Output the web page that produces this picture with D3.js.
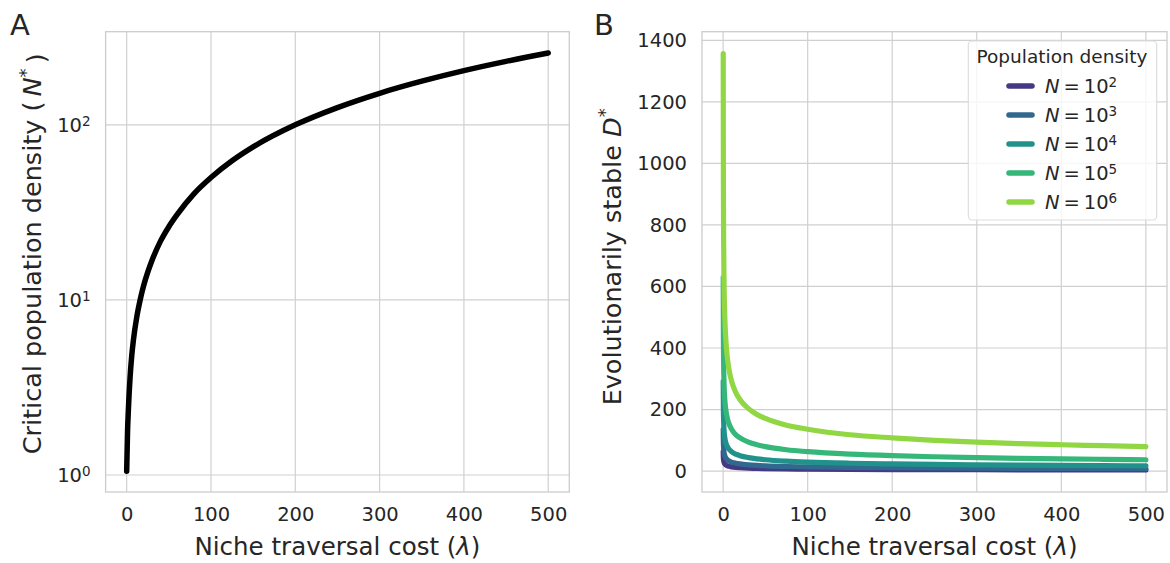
<!DOCTYPE html>
<html>
<head>
<meta charset="UTF-8">
<script src="https://d3js.org/d3.v7.min.js"></script>
<style>
  body { margin: 0; background: #fff; }
  text { font-family: "DejaVu Sans", sans-serif; fill: #262626; }
  .grid line { stroke: #d0d0d0; stroke-width: 1.2px; }
  .frame { fill: none; stroke: #cccccc; stroke-width: 1.3px; }
</style>
</head>
<body>
<svg width="1170" height="563"></svg>
<script>
// panel A: critical population density vs niche traversal cost
var lambdaA = [0, 1, 2, 4, 6, 8, 12, 16, 20, 25, 30, 40, 50, 60, 80, 100, 125, 150, 200, 250, 300, 350, 400, 450, 500];
var nStar   = [1.05, 1.75, 2.35, 3.6, 4.8, 5.9, 8.0, 10.0, 12.0, 14.4, 16.8, 21.6, 26.2, 30.8, 40.5, 50, 62.3, 74.8, 100, 125.5, 151.5, 177.5, 204, 230.5, 257];

// panel B: evolutionarily stable D* for five population densities
var lambdaB = [0.1, 0.3, 0.6, 1, 2, 3, 5, 7, 10, 15, 20, 30, 40, 50, 75, 100, 150, 200, 250, 300, 350, 400, 450, 500];
var seriesNames = ["2", "3", "4", "5", "6"];
var d_N1e2 = [63, 43.7, 34.7, 29.2, 23.2, 20.3, 17.1, 15.3, 13.6, 11.8, 10.8, 9.4, 8.5, 7.9, 6.9, 6.3, 5.5, 5.0, 4.6, 4.4, 4.1, 4.0, 3.8, 3.7];
var d_N1e3 = [136, 94, 75, 63, 50, 43.7, 36.8, 33, 29.2, 25.5, 23.2, 20.3, 18.4, 17.1, 14.9, 13.6, 11.8, 10.8, 10, 9.4, 8.9, 8.5, 8.3, 7.9];
var d_N1e4 = [292, 203, 161, 136, 108, 94, 79.4, 71, 63, 55, 50, 43.7, 39.7, 36.8, 32.2, 29.2, 25.5, 23.2, 21.5, 20.3, 19.3, 18.4, 17.7, 17.1];
var d_N1e5 = [630, 437, 347, 292, 232, 203, 171, 153, 136, 118, 108, 94, 85.5, 79.4, 69.3, 63, 55, 50, 46.5, 43.7, 41.5, 39.7, 38.2, 36.8];
var d_N1e6 = [1357, 941, 747, 630, 500, 437, 368, 329, 292, 255, 232, 203, 184, 171, 149, 136, 118, 108, 100, 94, 89, 85.5, 82.6, 79.4];
var seriesB = [d_N1e2, d_N1e3, d_N1e4, d_N1e5, d_N1e6];

var xTicks = [0, 100, 200, 300, 400, 500];
var yTicksA = [1, 10, 100];
var yTicksB = [0, 200, 400, 600, 800, 1000, 1200, 1400];

var colors = seriesNames.map((d, i) => d3.interpolateViridis((i + 1) / 6));

var svg = d3.select("svg");
var yTop = 31.7, yBot = 492;

function drawPanel(x, y, xT, yT, yFmt) {
  var g = svg.append("g");
  var x0 = x.range()[0], x1 = x.range()[1];
  // grid
  var grid = g.append("g").attr("class", "grid");
  grid.selectAll("line.v").data(xT).enter().append("line")
    .attr("x1", d => x(d)).attr("x2", d => x(d)).attr("y1", yTop).attr("y2", yBot);
  grid.selectAll("line.h").data(yT).enter().append("line")
    .attr("x1", x0).attr("x2", x1).attr("y1", d => y(d)).attr("y2", d => y(d));
  g.append("rect").attr("class", "frame")
    .attr("x", x0).attr("y", yTop).attr("width", x1 - x0).attr("height", yBot - yTop);

  var ax = g.append("g").attr("transform", "translate(0," + yBot + ")")
    .call(d3.axisBottom(x).tickValues(xT).tickSize(0).tickPadding(15));
  ax.select(".domain").remove();
  ax.attr("font-family", null).attr("font-size", null);
  ax.selectAll("text").style("font-size", "19.5px").attr("fill", "#262626");

  var ay = g.append("g").attr("transform", "translate(" + x0 + ",0)")
    .call(d3.axisLeft(y).tickValues(yT).tickSize(0).tickPadding(15).tickFormat(yFmt || (d => d)));
  ay.select(".domain").remove();
  ay.attr("font-family", null).attr("font-size", null);
  ay.selectAll("text").style("font-size", "19.5px").attr("fill", "#262626");
  return {g: g, ay: ay};
}

// ---------- panel A
var xA = d3.scaleLinear().domain([-25, 525]).range([105.6, 569.3]);
var yA = d3.scaleLog().domain([Math.pow(10, -0.097), Math.pow(10, 2.532)]).range([yBot, yTop]);
var pA = drawPanel(xA, yA, xTicks, yTicksA, () => "");
pA.ay.selectAll(".tick text").each(function(d) {
  var t = d3.select(this);
  t.append("tspan").text("10");
  t.append("tspan").attr("dy", "-0.45em").style("font-size", "13.5px").text(Math.round(Math.log10(d)));
});

var lineA = d3.line().x((d, i) => xA(lambdaA[i])).y(d => yA(d)).curve(d3.curveMonotoneX);
pA.g.append("path").datum(nStar).attr("d", lineA)
  .attr("fill", "none").attr("stroke", "#000").attr("stroke-width", 5.5)
  .attr("stroke-linecap", "round").attr("stroke-linejoin", "round");

// ---------- panel B
var xB = d3.scaleLinear().domain([-25, 525]).range([702, 1167]);
var yB = d3.scaleLinear().domain([-68, 1428]).range([yBot, yTop]);
var pB = drawPanel(xB, yB, xTicks, yTicksB);

var lineB = d3.line().x((d, i) => xB(lambdaB[i])).y(d => yB(d)).curve(d3.curveMonotoneX);
seriesB.forEach((s, i) => {
  pB.g.append("path").datum(s).attr("d", lineB)
    .attr("fill", "none").attr("stroke", colors[i]).attr("stroke-width", 5.2)
    .attr("stroke-linecap", "round").attr("stroke-linejoin", "round");
});

// legend
var lg = svg.append("g");
lg.append("rect").attr("x", 968.3).attr("y", 41).attr("width", 188.4).attr("height", 179)
  .attr("rx", 4).attr("fill", "rgba(255,255,255,0.8)").attr("stroke", "#dddddd").attr("stroke-width", 1.2);
lg.append("text").attr("x", 1062).attr("y", 62.5).attr("text-anchor", "middle")
  .style("font-size", "18.5px").text("Population density");
seriesNames.forEach((p, i) => {
  var cy = 86 + i * 29;
  lg.append("line").attr("x1", 1009).attr("x2", 1032).attr("y1", cy).attr("y2", cy)
    .attr("stroke", colors[i]).attr("stroke-width", 5.5).attr("stroke-linecap", "round");
  var t = lg.append("text").attr("x", 1045).attr("y", cy + 7).style("font-size", "19.5px");
  t.append("tspan").style("font-style", "italic").text("N");
  t.append("tspan").text("\u2009=\u200910");
  t.append("tspan").attr("dy", "-0.45em").style("font-size", "13.5px").text(p);
});

// axis labels
function xLabel(cx) {
  var t = svg.append("text").attr("x", cx).attr("y", 555).attr("text-anchor", "middle").style("font-size", "24.5px");
  t.append("tspan").text("Niche traversal cost (");
  t.append("tspan").style("font-style", "italic").text("λ");
  t.append("tspan").text(")");
}
xLabel((105.6 + 569.3) / 2);
xLabel((702 + 1167) / 2);

var ylA = svg.append("text").attr("transform", "translate(41," + ((yTop + yBot) / 2 - 8) + ") rotate(-90)")
  .attr("text-anchor", "middle").style("font-size", "25.5px");
ylA.append("tspan").text("Critical population density (\u2009");
ylA.append("tspan").style("font-style", "italic").text("N");
ylA.append("tspan").attr("dy", "-0.5em").style("font-size", "18px").text("*");
ylA.append("tspan").attr("dy", "0.5em").text("\u2009)");

var ylB = svg.append("text").attr("transform", "translate(621," + ((yTop + yBot) / 2 - 5) + ") rotate(-90)")
  .attr("text-anchor", "middle").style("font-size", "25.5px");
ylB.append("tspan").text("Evolutionarily stable ");
ylB.append("tspan").style("font-style", "italic").text("D");
ylB.append("tspan").attr("dy", "-0.55em").style("font-size", "18px").text("*");

// panel letters
svg.append("text").attr("x", 10).attr("y", 35).style("font-size", "29px").text("A");
svg.append("text").attr("x", 594).attr("y", 35).style("font-size", "29px").text("B");
</script>
</body>
</html>
